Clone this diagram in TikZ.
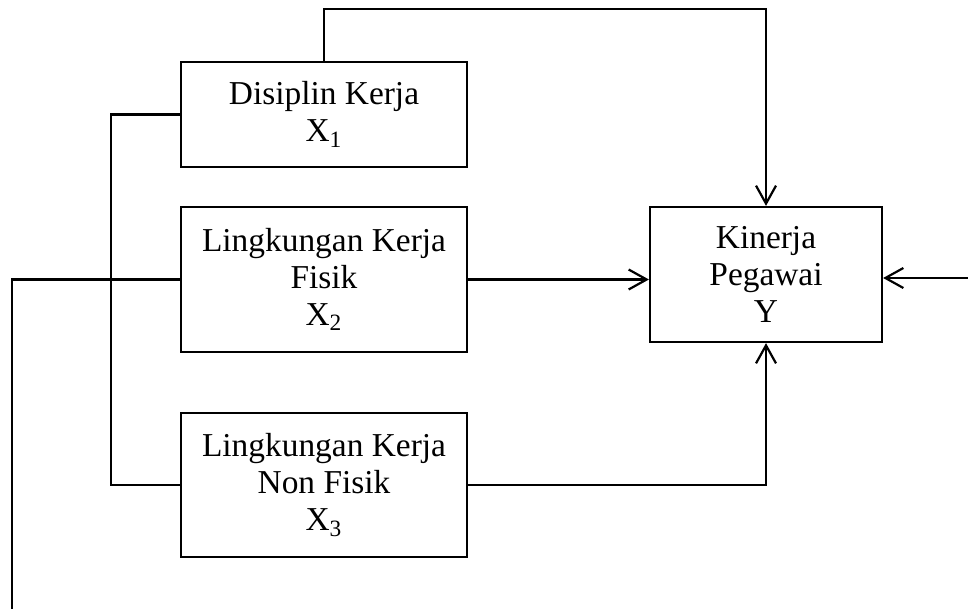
\documentclass[tikz,border=0pt]{standalone}
\usepackage{fontspec}
\setmainfont{Liberation Serif}
\usepackage{tikz}
\usetikzlibrary{arrows.meta}
\tikzstyle{edge} = [draw,line width=1.1pt,-]

\begin{document}
\begin{tikzpicture}[x=0.5pt,y=-0.5pt,>={Straight Barb[length=9pt,width=10pt,line width=1.1pt]},
  line width=1.1pt,
  var node/.style={draw,rectangle,align=center,inner sep=0pt,
    font=\fontsize{16.7}{18.5}\selectfont,minimum width=143pt}]
  \useasboundingbox (0,0) rectangle (968,609);

  \node[var node,minimum height=52.5pt] (x1) at (324,114.5) {Disiplin Kerja\\X\textsubscript{1}};
  \node[var node,minimum height=72.5pt] (x2) at (324,279.5) {Lingkungan Kerja\\Fisik\\X\textsubscript{2}};
  \node[var node,minimum height=72pt] (x3) at (324,485) {Lingkungan Kerja\\Non Fisik\\X\textsubscript{3}};
  \node[var node,minimum width=116pt,minimum height=67.5pt] (y) at (766,274.5) {Kinerja\\Pegawai\\Y};

  \coordinate (top) at (324,9);
  \coordinate (lend) at (12,609);
  \coordinate (rin) at (968,278);

  \draw[->] (x1.north) -- (top) -| (y.north);
  \path[edge] (x1.west) -- ++(-69,0) |- (x3.west);
  \path[edge] (x2.west) -| (lend);
  \draw[->] (x2.east) -- (x2.east -| y.west);
  \draw[->] (x3.east) -| (y.south);
  \draw[->] (rin) -- (rin -| y.east);
\end{tikzpicture}
\end{document}
